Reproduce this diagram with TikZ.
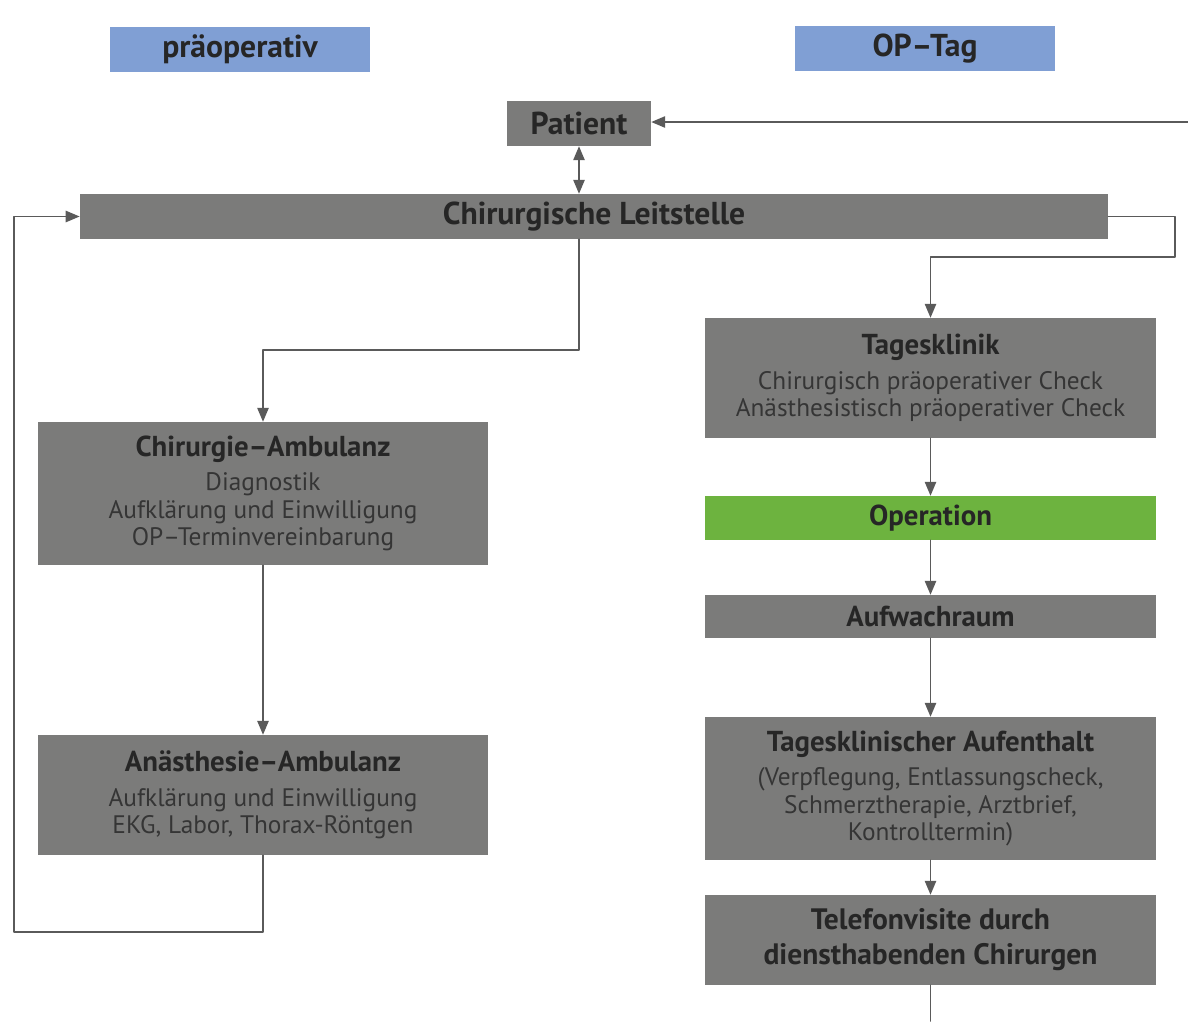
\documentclass[tikz,border=0pt]{standalone}
\usepackage{fontspec}
\setmainfont{PT Sans}
\usepackage{tikz}
\usetikzlibrary{arrows}

\definecolor{boxgray}{HTML}{7B7B7A}
\definecolor{headblue}{HTML}{809FD4}
\definecolor{opgreen}{HTML}{6DB33F}
\definecolor{textdark}{HTML}{262626}
\definecolor{textbody}{HTML}{353535}
\definecolor{linegray}{HTML}{5A5A5A}

\tikzset{
	box/.style={fill=boxgray,text=textbody,align=center,inner sep=0pt,minimum width=11.25cm,font=\fontsize{18}{19.5}\selectfont},
	head/.style={fill=headblue,text=textdark,inner sep=0pt,minimum width=6.5cm,minimum height=1.1cm,font=\fontsize{22.5}{26}\selectfont\bfseries},
	conn/.style={color=linegray,line width=1.3pt}
}
\newcommand{\ttl}[1]{{\color{textdark}\fontsize{20.5}{24}\selectfont\bfseries #1}}
\newcommand{\bigttl}[1]{{\color{textdark}\fontsize{22.5}{26}\selectfont\bfseries #1}}

\begin{document}
\begin{tikzpicture}[line cap=round,line join=round,>=triangle 45,x=0.025cm,y=-0.025cm]
	\useasboundingbox (0,0) rectangle (1188,1021);
	% Spaltenkoepfe
	\node[head] (pre) at (240,49.5) {präoperativ};
	\node[head] (optag) at (925,48.5) {OP--Tag};
	% Leitstelle
	\node[box,minimum width=3.6cm,minimum height=1.125cm] (patient) at (579,123.5) {\bigttl{Patient}};
	\node[box,minimum width=25.7cm,minimum height=1.125cm] (leit) at (594,216.5) {\bigttl{Chirurgische Leitstelle}};
	% praeoperativ
	\node[box,minimum height=3.575cm] (chamb) at (263,493.5) {\ttl{Chirurgie--Ambulanz}\\[0.17cm]Diagnostik\\Aufklärung und Einwilligung\\OP--Terminvereinbarung};
	\node[box,minimum height=3cm] (anamb) at (263,795) {\ttl{Anästhesie--Ambulanz}\\[0.17cm]Aufklärung und Einwilligung\\EKG, Labor, Thorax-Röntgen};
	% OP-Tag
	\node[box,minimum height=3cm] (tk) at (930.5,378) {\ttl{Tagesklinik}\\[0.17cm]Chirurgisch präoperativer Check\\Anästhesistisch präoperativer Check};
	\node[box,fill=opgreen,minimum height=1.1cm] (op) at (930.5,518) {\ttl{Operation}};
	\node[box,minimum height=1.075cm] (awr) at (930.5,616.5) {\ttl{Aufwachraum}};
	\node[box,minimum height=3.575cm] (tka) at (930.5,788.5) {\ttl{Tagesklinischer Aufenthalt}\\[0.17cm](Verpflegung, Entlassungscheck,\\Schmerztherapie, Arztbrief,\\Kontrolltermin)};
	\node[box,minimum height=2.25cm,text=textdark,font=\fontsize{21}{25}\selectfont\bfseries] (tel) at (930.5,940) {Telefonvisite durch\\diensthabenden Chirurgen};
	\coordinate (rein) at (1188,122);
	\coordinate (raus) at (930.5,1021);
	% Verbindungen
	\draw[conn,<->] (patient.south) -- (patient.south |- leit.north);
	\draw[conn,->] (rein) -- (patient.east |- rein);
	\draw[conn,->] (leit.east) -- (1175,216.5) -- (1175,257) -| (tk.north);
	\draw[conn,->] (patient.south |- leit.south) -- ++(0,110.5) -| (chamb.north);
	\draw[conn,->] (chamb) -- (anamb);
	\draw[conn,->] (anamb.south) |- (14,932) |- (leit.west);
	\draw[conn,->] (tk) -- (op);
	\draw[conn,->] (op) -- (awr);
	\draw[conn,->] (awr) -- (tka);
	\draw[conn,->] (tka) -- (tel);
	\draw[conn] (tel) -- (raus);
\end{tikzpicture}
\end{document}
